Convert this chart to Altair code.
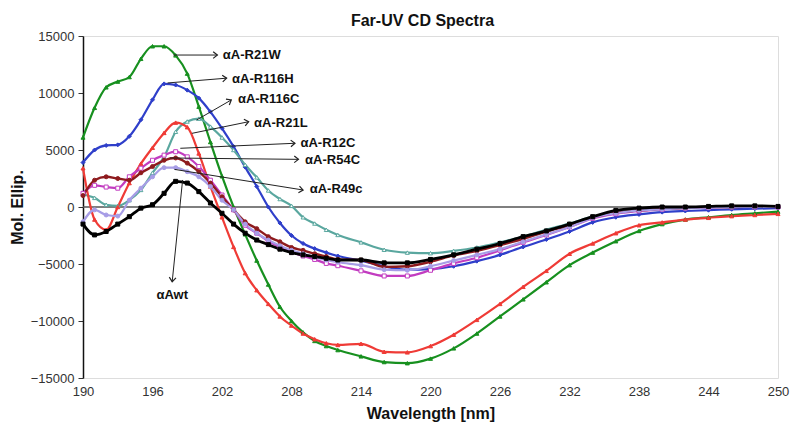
import math
import altair as alt
import pandas as pd

# ---------------- data ----------------
wavelength = [190, 191, 192, 193, 194, 195, 196, 197, 198, 199, 200, 201, 202, 203,
              204, 205, 206, 207, 208, 209, 210, 211, 212,
              214, 216, 218, 220, 222, 224, 226, 228, 230, 232, 234, 236, 238,
              240, 242, 244, 246, 248, 250]

r21w = [6100, 8700, 10500, 11000, 11400, 13000, 14100, 14100, 13300, 11700,
        8800, 5700, 2700, 0, -2400, -4700, -6800, -8750, -10000, -11000,
        -11750, -12200, -12550,
        -13100, -13600, -13700, -13300, -12400, -11100, -9600, -8100, -6600, -5100,
        -4000, -3000, -2100, -1500, -1100, -900, -700, -550, -400]

r116h = [3900, 5000, 5400, 5450, 6200, 7650, 9400, 10800, 10700, 10250,
         9550, 8350, 6900, 5300, 3500, 1800, 0, -1400, -2500, -3200,
         -3650, -4000, -4300,
         -4700, -5200, -5500, -5450, -5200, -4750, -4200, -3500, -2850, -2150,
         -1350, -900, -650, -450, -350, -280, -200, -150, -100]

r116c = [1100, 800, 200, 100, 600, 1500, 3000, 4400, 6600, 7500,
         7750, 7050, 6100, 5000, 3700, 2600, 1450, 700, 100, -900,
         -1450, -2000, -2450,
         -3100, -3750, -4000, -4050, -3850, -3550, -3100, -2600, -2000, -1450,
         -850, -450, -200, -100, 0, 0, 0, 50, 50]

r21l = [3400, -1100, -2000, 0, 2100, 3800, 5200, 6500, 7400, 7000,
        4700, 1800, -900, -3500, -5800, -7300, -8500, -9600, -10400, -11100,
        -11600, -11950, -12100,
        -12000, -12700, -12750, -12200, -11200, -9900, -8500, -7000, -5600, -4100,
        -3200, -2300, -1600, -1350, -1100, -950, -800, -700, -600]

r12c = [1200, 1900, 1750, 1650, 2650, 3400, 4100, 4550, 4850, 4400,
        3550, 2350, 1050, -250, -1600, -2300, -3000, -3500, -3950, -4300,
        -4600, -4950, -5150,
        -5600, -6050, -6050, -5550, -4950, -4450, -3800, -3100, -2450, -1750,
        -1000, -600, -350, -200, -100, -50, 0, 0, 0]

r54c = [1000, 2350, 2650, 2500, 2350, 3000, 3550, 4100, 4300, 3850,
        3100, 2100, 900, -250, -1300, -1900, -2600, -3050, -3550, -3800,
        -4100, -4350, -4600,
        -4650, -5250, -5200, -4800, -4250, -3850, -3350, -2800, -2150, -1600,
        -900, -500, -300, -150, -80, 0, 0, 50, 0]

r49c = [-1300, -250, -700, -800, 600, 1650, 2650, 3450, 3450, 3100,
        2650, 1800, 600, -250, -1500, -2300, -2900, -3400, -3800, -4100,
        -4400, -4650, -4850,
        -5100, -5500, -5550, -5200, -4700, -4200, -3700, -3050, -2400, -1750,
        -950, -550, -300, -200, -100, -50, 0, 0, 0]

wt = [-1500, -2450, -2150, -1500, -850, -100, 200, 1200, 2250, 2100,
      1350, 350, -550, -1500, -2300, -2900, -3300, -3700, -4000, -4200,
      -4350, -4500, -4650,
      -4650, -4900, -4900, -4600, -4200, -3700, -3200, -2600, -2100, -1500,
      -850, -300, -100, 0, 0, 50, 100, 100, 50]

series_names = ["αA-R21W", "αA-R116H", "αA-R116C", "αA-R21L",
                "αA-R12C", "αA-R54C", "αA-R49c", "αAwt"]
series_values = [r21w, r116h, r116c, r21l, r12c, r54c, r49c, wt]

# annotation arrows (start on curve -> end near label), label anchor
ann_label = ["αA-R21W", "αA-R116H", "αA-R116C", "αA-R21L",
             "αA-R12C", "αA-R54C", "αA-R49c", "αAwt"]
ann_x1 = [197.8, 197.3, 199.8, 199.4, 198.4, 197.5, 197.9, 198.6]
ann_y1 = [13330, 10880, 7630, 6460, 5150, 4300, 3300, 2370]
ann_x2 = [201.6, 202.4, 202.8, 204.3, 208.3, 208.6, 209.0, 197.7]
ann_y2 = [13330, 11300, 9390, 7480, 5590, 4180, 1490, -6550]
ann_lx = [201.9, 202.7, 203.2, 204.6, 208.6, 209.0, 209.4, 197.7]
ann_ly = [13330, 11230, 9470, 7370, 5640, 4120, 1550, -7720]
ann_align = ["left"] * 7 + ["center"]

x_ticks = [190, 196, 202, 208, 214, 220, 226, 232, 238, 244, 250]
y_ticks = [-15000, -10000, -5000, 0, 5000, 10000, 15000]

colors = ["#17901f", "#2f3fca", "#5aa79f", "#ef3b36",
          "#c23cc0", "#8e1b1e", "#a79de6", "#000000"]
fills = ["#17901f", "#2f3fca", "#ffffff", "#ef3b36",
         "#ffffff", "#8e1b1e", "#a79de6", "#000000"]
shapes = ["triangle-up", "diamond", "triangle-up", "triangle-up",
          "square", "circle", "circle", "square"]
widths = [2.2, 2.2, 2.2, 2.2, 2.2, 2.4, 2.2, 2.8]

# ---------------- build tables ----------------
rows = []
for name, vals, sw in zip(series_names, series_values, widths):
    for w, v in zip(wavelength, vals):
        rows.append({"series": name, "wavelength": w, "value": v, "sw": sw})
df = pd.DataFrame(rows)

W, H = 695, 342
xmin, xmax, ymin, ymax = 190, 250, -15000, 15000
ann = pd.DataFrame({"label": ann_label, "x1": ann_x1, "y1": ann_y1,
                    "x2": ann_x2, "y2": ann_y2, "lx": ann_lx, "ly": ann_ly,
                    "align": ann_align})
ann["ang"] = [
    math.degrees(math.atan2(-(b2 - b1) * H / (ymax - ymin),
                            (a2 - a1) * W / (xmax - xmin))) % 360
    for a1, b1, a2, b2 in zip(ann_x1, ann_y1, ann_x2, ann_y2)
]

FONT = "Liberation Sans, Arial, Helvetica, sans-serif"

xs = alt.Scale(domain=[xmin, xmax], nice=False, zero=False)
ys = alt.Scale(domain=[ymin, ymax], nice=False, zero=False)

x_enc = alt.X("wavelength:Q", scale=xs,
              axis=alt.Axis(values=x_ticks, format="d", title="Wavelength [nm]",
                            grid=False, ticks=False, domain=False, labelFlush=False,
                            labelPadding=7, labelFontSize=13, labelColor="#333333",
                            labelFont=FONT, titleFont=FONT, titleFontSize=16,
                            titleFontWeight="bold", titlePadding=7,
                            titleColor="#111111"))
y_enc = alt.Y("value:Q", scale=ys,
              axis=alt.Axis(values=y_ticks, format="d", title="Mol. Ellip.",
                            grid=False, tickSize=5, tickColor="#333333",
                            domainColor="#111111", domainWidth=1.5,
                            labelPadding=4, labelFontSize=13, labelColor="#333333",
                            labelFont=FONT, titleFont=FONT, titleFontSize=16,
                            titleFontWeight="bold", titlePadding=5,
                            titleColor="#111111"))

color_scale = alt.Scale(domain=series_names, range=colors)

zero = alt.Chart(pd.DataFrame({"value": [0]})).mark_rule(
    color="#555555", strokeWidth=1.5).encode(y=alt.Y("value:Q", scale=ys))

lines = alt.Chart(df).mark_line(interpolate="monotone").encode(
    x=x_enc, y=y_enc,
    color=alt.Color("series:N", scale=color_scale, legend=None),
    strokeWidth=alt.StrokeWidth("sw:Q", scale=None),
    order=alt.Order("wavelength:Q"),
)

pts = alt.Chart(df).mark_point(size=16, strokeWidth=1, opacity=1).encode(
    x=alt.X("wavelength:Q", scale=xs),
    y=alt.Y("value:Q", scale=ys),
    stroke=alt.Stroke("series:N", scale=color_scale, legend=None),
    fill=alt.Fill("series:N", scale=alt.Scale(domain=series_names, range=fills),
                  legend=None),
    shape=alt.Shape("series:N", scale=alt.Scale(domain=series_names, range=shapes),
                    legend=None),
)

arrows = alt.Chart(ann).mark_rule(color="#222222", strokeWidth=1).encode(
    x=alt.X("x1:Q", scale=xs), y=alt.Y("y1:Q", scale=ys),
    x2="x2:Q", y2="y2:Q")

heads = alt.Chart(ann).mark_point(
    shape="M -1 -0.8 L 0 0 L -1 0.8", filled=False, size=70,
    color="#222222", strokeWidth=1.2, opacity=1).encode(
    x=alt.X("x2:Q", scale=xs), y=alt.Y("y2:Q", scale=ys),
    angle=alt.Angle("ang:Q", scale=None))

labels_l = alt.Chart(ann).transform_filter("datum.align == 'left'").mark_text(
    align="left", baseline="middle", fontSize=13, fontWeight="bold",
    font=FONT, color="#111111", dx=2).encode(
    x=alt.X("lx:Q", scale=xs), y=alt.Y("ly:Q", scale=ys), text="label:N")

labels_c = alt.Chart(ann).transform_filter("datum.align == 'center'").mark_text(
    align="center", baseline="middle", fontSize=13, fontWeight="bold",
    font=FONT, color="#111111").encode(
    x=alt.X("lx:Q", scale=xs), y=alt.Y("ly:Q", scale=ys), text="label:N")

chart = alt.layer(zero, lines, pts, arrows, heads, labels_l, labels_c).properties(
    width=W, height=H,
    title=alt.TitleParams("Far-UV CD Spectra", fontSize=16, fontWeight="bold",
                          font=FONT, anchor="middle", offset=1, dx=-8,
                          color="#111111"),
    autosize=alt.AutoSizeParams(type="none"),
    padding={"left": 75, "top": 28, "right": 14, "bottom": 48},
).configure_view(stroke="#777777", strokeWidth=1.5).configure(background="white")

chart.save("out.html", embed_options={"renderer": "svg", "actions": False})
